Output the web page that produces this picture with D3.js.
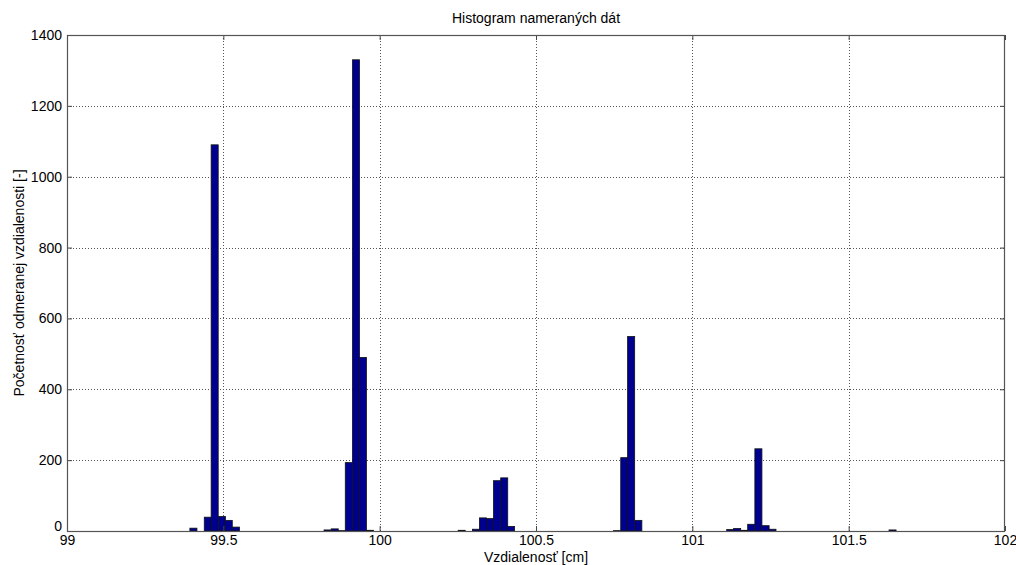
<!DOCTYPE html>
<html>
<head>
<meta charset="utf-8">
<script src="https://cdn.jsdelivr.net/npm/d3@7"></script>
<style>
  html, body { margin: 0; padding: 0; background: #fff; }
  svg { display: block; font-family: "Liberation Sans", Arial, sans-serif; }
</style>
</head>
<body>
<svg id="chart" width="1016" height="565"></svg>
<script>
// Histogram bins (left edges, cm) that hold at least one measurement
const binStarts = [
  99.393, 99.439, 99.461, 99.484, 99.506, 99.529,
  99.822, 99.845, 99.867, 99.890, 99.913, 99.935, 99.958,
  100.251, 100.297, 100.319, 100.342, 100.364, 100.387, 100.409,
  100.748, 100.771, 100.793, 100.816,
  101.110, 101.132, 101.155, 101.177, 101.200, 101.223, 101.245,
  101.629
];
// Number of measurements in each bin
const counts = [
  8, 39, 1090, 41, 30, 11,
  3, 6, 1, 193, 1330, 490, 2,
  2, 5, 37, 35, 142, 150, 13,
  1, 207, 549, 30,
  4, 7, 2, 19, 232, 15, 5,
  3
];
const binWidth = 0.02258;

const xTicks = [99, 99.5, 100, 100.5, 101, 101.5, 102];
const yTicks = [0, 200, 400, 600, 800, 1000, 1200, 1400];

const titleText = "Histogram nameraných dát";
const xLabel = "Vzdialenosť [cm]";
const yLabel = "Početnosť odmeranej vzdialenosti [-]";

const svg = d3.select("#chart");
const plotLeft = 67, plotRight = 1005, plotTop = 35, plotBottom = 531;

const x = d3.scaleLinear().domain([99, 102]).range([plotLeft, plotRight]);
const y = d3.scaleLinear().domain([0, 1400]).range([plotBottom, plotTop]);

const bins = binStarts.map((s, i) => ({ x0: s, x1: s + binWidth, n: counts[i] }));

// dotted grid
const grid = svg.append("g").attr("stroke", "#555").attr("stroke-width", 1)
  .attr("stroke-dasharray", "1,2").attr("shape-rendering", "crispEdges");
grid.selectAll("line.gx").data(xTicks.slice(1, -1)).join("line")
  .attr("x1", d => Math.round(x(d)) + 0.5).attr("x2", d => Math.round(x(d)) + 0.5)
  .attr("y1", plotTop).attr("y2", plotBottom);
grid.selectAll("line.gy").data(yTicks.slice(1, -1)).join("line")
  .attr("y1", d => Math.round(y(d)) + 0.5).attr("y2", d => Math.round(y(d)) + 0.5)
  .attr("x1", plotLeft).attr("x2", plotRight);

// bars
svg.append("g").selectAll("rect").data(bins).join("rect")
  .attr("x", d => x(d.x0))
  .attr("width", d => x(d.x1) - x(d.x0))
  .attr("y", d => y(d.n))
  .attr("height", d => y(0) - y(d.n))
  .attr("fill", "#00008f")
  .attr("stroke", "#111")
  .attr("stroke-width", 0.8);

// axes (ticks pointing inward, like the box frame)
svg.append("g").attr("transform", `translate(0,${plotBottom})`)
  .call(d3.axisBottom(x).tickValues(xTicks).tickSizeInner(-5).tickSizeOuter(0)
    .tickPadding(4).tickFormat(d3.format("")));
const yAxisG = svg.append("g").attr("transform", `translate(${plotLeft},0)`)
  .call(d3.axisLeft(y).tickValues(yTicks).tickSizeInner(-5).tickSizeOuter(0)
    .tickPadding(5).tickFormat(d3.format("")));
// lift the zero label a little so it clears the first x label
yAxisG.selectAll(".tick text").filter(d => d === 0).attr("dy", "-0.05em");
svg.append("g").attr("transform", `translate(0,${plotTop})`)
  .call(d3.axisTop(x).tickValues(xTicks).tickSizeInner(-5).tickSizeOuter(0).tickFormat(""));
svg.append("g").attr("transform", `translate(${plotRight},0)`)
  .call(d3.axisRight(y).tickValues(yTicks).tickSizeInner(-5).tickSizeOuter(0).tickFormat(""));

svg.selectAll(".domain").remove();
svg.selectAll(".tick line").attr("stroke", "#444");
svg.selectAll(".tick text").attr("fill", "#000").style("font-size", "14px")
  .style("font-family", "'Liberation Sans', Arial, sans-serif");

// box frame
svg.append("rect").attr("x", plotLeft + 0.5).attr("y", plotTop + 0.5)
  .attr("width", plotRight - plotLeft - 1).attr("height", plotBottom - plotTop)
  .attr("fill", "none").attr("stroke", "#555").attr("stroke-width", 1.2);

// title and axis labels
svg.append("text").attr("x", (plotLeft + plotRight) / 2).attr("y", 23)
  .attr("text-anchor", "middle").style("font-size", "14px").text(titleText);
svg.append("text").attr("x", (plotLeft + plotRight) / 2).attr("y", 562)
  .attr("text-anchor", "middle").style("font-size", "14px").text(xLabel);
svg.append("text").attr("transform", `translate(24,${(plotTop + plotBottom) / 2}) rotate(-90)`)
  .attr("text-anchor", "middle").style("font-size", "14px").text(yLabel);
</script>
</body>
</html>
